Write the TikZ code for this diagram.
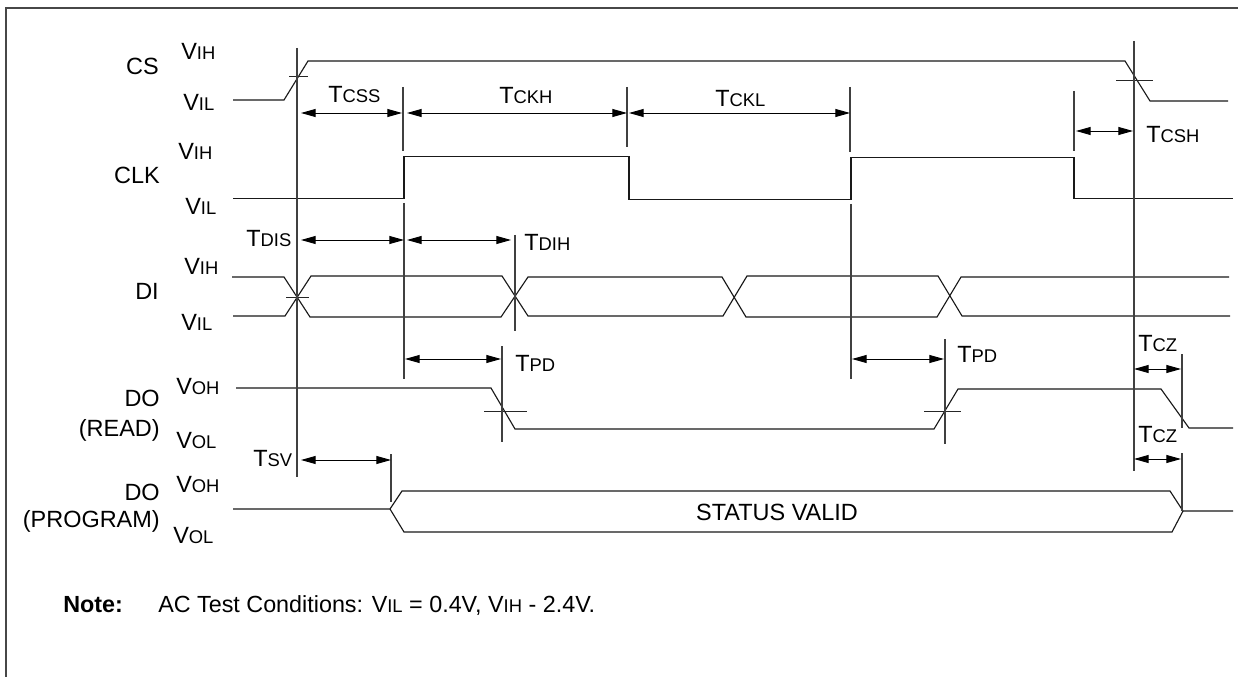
\documentclass[tikz,border=0pt]{standalone}
\usepackage{fontspec}
\setmainfont{Liberation Sans}
\usetikzlibrary{arrows.meta}
\newcommand{\bigf}{\fontsize{17.6pt}{20pt}\selectfont}
\newcommand{\smf}{\fontsize{13.8pt}{15pt}\selectfont}
\newcommand{\subl}[2]{{\bigf #1{\smf #2}}}
\tikzset{
  sig/.style={line width=0.85pt,black!90,line join=miter},
  tick/.style={line width=0.95pt,black!75},
  thin/.style={line width=0.7pt,black!85},
  dim/.style={line width=0.7pt,black,{Triangle[length=11pt,width=6pt]}-{Triangle[length=11pt,width=6pt]},shorten >=0pt,shorten <=0pt},
  labr/.style={inner sep=0pt,anchor=base east,font=\bigf},
  lbl/.style={inner sep=0pt,anchor=base west}
}
\begin{document}
\begin{tikzpicture}[x=0.75pt,y=-0.75pt]
\useasboundingbox (0,0) rectangle (1238,677);
\draw[line width=1.25pt,black!72] (6,677) -- (6,8) -- (1238,8);
% CS
\draw[sig] (233,100) -- (284,100) -- (308,61) -- (1125,61) -- (1150,101) -- (1228,101);
\draw[thin] (289,76) -- (308,76);
\draw[thin] (1116,80) -- (1153,80);
% CLK
\draw[sig] (233,198.6) -- (404,198.6) -- (404,156.4) -- (629,156.4) -- (629,199.4) -- (851,199.4) -- (851,157.4) -- (1074,157.4) -- (1074,198.6) -- (1233,198.6);
% DI
\draw[sig] (232,277) -- (284,277) -- (310,317) -- (501,317) -- (528,277) -- (722,277) -- (746,317) -- (937,317) -- (961,277) -- (1229,277);
\draw[sig] (233,316) -- (285,316) -- (311,276) -- (502,276) -- (528,316) -- (723,316) -- (747,276) -- (938,276) -- (962,316) -- (1230,316);
\draw[thin] (286,297) -- (309,297);
% DO read
\draw[sig] (236,388) -- (491,388) -- (515,429) -- (934,429) -- (958,389) -- (1161,389) -- (1189,428) -- (1233,428);
\draw[thin] (484,411) -- (527,411);
\draw[thin] (924,411) -- (961,411);
% DO program
\draw[sig] (233,509) -- (390,509) -- (402,491) -- (1170,491) -- (1183,511) -- (1233,511);
\draw[sig] (390,509) -- (404,532) -- (1172,532) -- (1183,511);
% verticals
\draw[tick] (297,48) -- (297,477);
\draw[tick] (1134,41) -- (1134,471);
\draw[tick] (403,87) -- (403,151);
\draw[tick] (404,203) -- (404,379);
\draw[tick] (627,87) -- (627,147);
\draw[tick] (850,87) -- (850,152);
\draw[tick] (851,204) -- (851,379);
\draw[tick] (1074,91) -- (1074,151);
\draw[tick] (515,235) -- (515,331);
\draw[tick] (502,346) -- (502,442);
\draw[tick] (945,339) -- (945,444);
\draw[tick] (1182,354) -- (1182,428);
\draw[tick] (1182,453) -- (1182,511);
\draw[tick] (391,454) -- (391,502);
% dims
\draw[dim] (301,113) -- (402,113);
\draw[dim] (407,113) -- (627,113);
\draw[dim] (629,113) -- (850,113);
\draw[dim] (1076,131) -- (1133,131);
\draw[dim] (301,240) -- (404,240);
\draw[dim] (407,240) -- (511,240);
\draw[dim] (405,359) -- (501,359);
\draw[dim] (852,359) -- (944,359);
\draw[dim] (1134,369) -- (1181,369);
\draw[dim] (1134,459) -- (1181,459);
\draw[dim] (301,460) -- (391,460);
% labels
\node[labr] (nCS) at (159,75) {CS};
\node[labr] (nCLK) at (160,184) {CLK};
\node[labr] (nDI) at (159,300) {DI};
\node[labr] (nDOa) at (160,406) {DO};
\node[labr] (nREAD) at (160,436) {(READ)};
\node[labr] (nDOb) at (160,500) {DO};
\node[labr] (nPROG) at (160,527) {(PROGRAM)};
\node[lbl] (v1) at (181,60) {\subl{V}{IH}};
\node[lbl] (v2) at (183,111) {\subl{V}{IL}};
\node[lbl] (v3) at (178,160) {\subl{V}{IH}};
\node[lbl] (v4) at (185,215) {\subl{V}{IL}};
\node[lbl] (v5) at (184,275) {\subl{V}{IH}};
\node[lbl] (v6) at (181,330) {\subl{V}{IL}};
\node[lbl] (v7) at (176,394) {\subl{V}{OH}};
\node[lbl] (v8) at (176,448) {\subl{V}{OL}};
\node[lbl] (v9) at (176,492) {\subl{V}{OH}};
\node[lbl] (v10) at (173,543) {\subl{V}{OL}};
\node[lbl] (t1) at (328,103) {\subl{T}{CSS}};
\node[lbl] (t2) at (499,104) {\subl{T}{CKH}};
\node[lbl] (t3) at (715,107) {\subl{T}{CKL}};
\node[lbl] (t4) at (1146,143) {\subl{T}{CSH}};
\node[lbl] (t5) at (246,247) {\subl{T}{DIS}};
\node[lbl] (t6) at (524,251) {\subl{T}{DIH}};
\node[lbl] (t7) at (515,371) {\subl{T}{PD}};
\node[lbl] (t8) at (957,362) {\subl{T}{PD}};
\node[lbl] (t9) at (1138,351) {\subl{T}{CZ}};
\node[lbl] (t10) at (1138,442) {\subl{T}{CZ}};
\node[lbl] (t11) at (253,466) {\subl{T}{SV}};
\node[inner sep=0pt,anchor=base] (st) at (777,520) {\bigf STATUS VALID};
\node[lbl] (note) at (63,612) {\fontsize{17.5pt}{20pt}\selectfont\bfseries Note:};
\node[lbl] (cond) at (158,612) {\fontsize{17.5pt}{20pt}\selectfont AC Test Conditions: V{\smf IL} = 0.4V, V{\smf IH} - 2.4V.};
\end{tikzpicture}
\end{document}
